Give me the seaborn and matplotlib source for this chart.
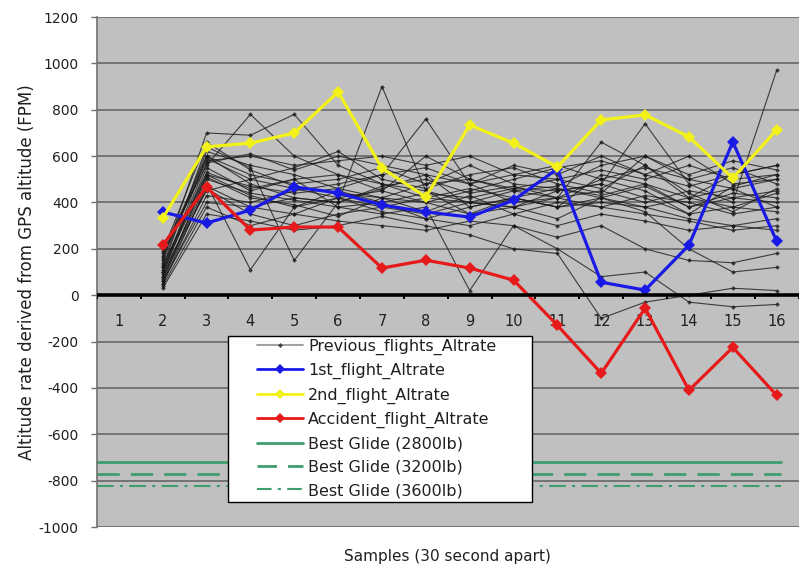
import numpy as np
import pandas as pd
import matplotlib
matplotlib.use("Agg")
import matplotlib.pyplot as plt
from matplotlib.lines import Line2D
from matplotlib.patches import Rectangle
import seaborn as sns

# ---------------- data ----------------
samples = list(range(2, 17))          # samples with data
tick_labels = [str(i) for i in range(1, 17)]
y_ticks = list(range(-1000, 1201, 200))

first_flight = [359, 311, 367, 467, 441, 389, 359, 337, 410, 545, 56, 22, 216, 661, 233]
second_flight = [332, 640, 656, 700, 877, 548, 424, 734, 656, 553, 756, 778, 683, 505, 713]
accident_flight = [216, 467, 281, 294, 294, 117, 151, 117, 65, -130, -337, -56, -410, -225, -432]

best_glide_2800 = -720
best_glide_3200 = -770
best_glide_3600 = -825

prev_flights = [
    [60, 520, 430, 380, 420, 360, 330, 380, 420, 460, 430, 480, 380, 420, 450],
    [100, 600, 480, 420, 400, 470, 500, 440, 470, 420, 500, 450, 350, 470, 520],
    [150, 700, 690, 780, 560, 480, 450, 400, 380, 330, 420, 380, 330, 300, 280],
    [200, 560, 780, 600, 520, 450, 600, 500, 450, 470, 560, 600, 500, 550, 480],
    [80, 480, 110, 380, 450, 400, 330, 300, 350, 400, 380, 430, 400, 350, 380],
    [120, 640, 550, 150, 400, 900, 450, 350, 420, 380, 520, 480, 420, 520, 560],
    [50, 430, 400, 450, 480, 520, 760, 480, 400, 420, 660, 560, 420, 380, 360],
    [90, 550, 450, 500, 380, 350, 380, 20, 300, 200, 80, 100, -30, -50, -40],
    [180, 600, 520, 480, 500, 550, 480, 500, 460, 450, 480, 740, 480, 400, 970],
    [40, 380, 300, 350, 320, 300, 280, 320, 300, 250, 300, 200, 150, 140, 180],
    [130, 520, 470, 440, 460, 420, 400, 450, 500, 550, 580, 520, 600, 480, 500],
    [70, 460, 350, 300, 350, 380, 420, 400, 380, 420, 450, 400, 450, 420, 400],
    [160, 590, 500, 550, 620, 500, 460, 520, 550, 480, 440, 600, 520, 580, 540],
    [110, 510, 420, 390, 340, 420, 360, 430, 350, 300, 350, 320, 280, 300, 330],
    [60, 400, 380, 420, 400, 460, 520, 380, 420, 380, 420, 470, 380, 440, 420],
    [140, 620, 560, 520, 460, 520, 550, 480, 520, 500, 540, 500, 560, 500, 520],
    [30, 350, 320, 280, 300, 340, 300, 260, 200, 180, -100, -30, 0, 30, 20],
    [100, 450, 500, 460, 420, 380, 350, 400, 450, 420, 380, 350, 320, 280, 300],
    [170, 580, 600, 560, 580, 600, 560, 600, 520, 560, 500, 550, 500, 460, 500],
    [50, 470, 380, 350, 420, 450, 400, 350, 380, 450, 480, 420, 350, 380, 440],
    [120, 530, 460, 500, 520, 480, 420, 460, 420, 380, 400, 380, 420, 460, 380],
    [80, 500, 440, 410, 380, 400, 440, 420, 460, 500, 460, 560, 440, 360, 460],
    [190, 660, 540, 470, 440, 420, 480, 560, 480, 460, 420, 360, 200, 100, 120],
    [100, 570, 610, 540, 600, 560, 520, 480, 560, 520, 600, 520, 470, 520, 560],
]

# ---------------- style ----------------
sns.set_theme(style="white")
plt.rcParams["font.family"] = ["DejaVu Sans"]

fig = plt.figure(figsize=(8.01, 5.67), dpi=100)
ax = fig.add_axes([0.121, 0.0705, 0.876, 0.8995])
ax.set_facecolor("#C0C0C0")

# gridlines
for yv in y_ticks:
    if yv != 0:
        ax.axhline(yv, color="#6E6E6E", lw=1.3, zorder=1)

# previous flights
prev_df = pd.DataFrame(
    [(k, s, v) for k, fl in enumerate(prev_flights) for s, v in zip(samples, fl)],
    columns=["flight", "sample", "rate"],
)
sns.lineplot(data=prev_df, x="sample", y="rate", units="flight", estimator=None,
             color="#1A1A1A", lw=0.8, alpha=0.8, marker="D", markersize=2.4,
             markeredgewidth=0, ax=ax, zorder=3, legend=False)

# best glide lines
gl_x = [0.5, 16.1]
green = "#3E9E6E"
sns.lineplot(x=gl_x, y=[best_glide_2800] * 2, color=green, lw=2.0, ax=ax, zorder=2)
l32 = sns.lineplot(x=gl_x, y=[best_glide_3200] * 2, color=green, lw=2.0, ax=ax, zorder=2).lines[-1]
l32.set_dashes([8, 4])
l36 = sns.lineplot(x=gl_x, y=[best_glide_3600] * 2, color=green, lw=1.5, ax=ax, zorder=2).lines[-1]
l36.set_dashes([8, 3, 1.5, 3])

# highlighted flights
blue, yellow, red = "#1A1AE6", "#F2F21A", "#E61A1A"
for vals, col in [(first_flight, blue), (second_flight, yellow), (accident_flight, red)]:
    sns.lineplot(x=samples, y=vals, color=col, lw=2.3, marker="D", markersize=6.5,
                 markeredgewidth=0, ax=ax, zorder=5)

# zero axis
ax.axhline(0, color="black", lw=2.6, zorder=6)

ax.set_xlim(0.5, 16.5)
ax.set_ylim(-1000, 1200)

for s in ["top", "right", "bottom"]:
    ax.spines[s].set_visible(False)
ax.spines["left"].set_color("#707070")
ax.spines["left"].set_linewidth(1.2)

ax.set_yticks(y_ticks)
ax.set_yticklabels([str(v) for v in y_ticks], fontsize=10, color="#202020")
ax.tick_params(axis="y", direction="out", length=4, width=1, color="#707070", pad=9, left=True)

ax.set_xticks(range(1, 17))
ax.set_xticklabels(tick_labels, fontsize=10.5, color="#202020")
ax.tick_params(axis="x", which="major", length=0, pad=0)
for lab in ax.get_xticklabels():
    lab.set_y(0.402)
    lab.set_va("center")
# boundary tick marks on the zero line
for xb in np.arange(0.5, 16.6, 1.0):
    ax.plot([xb, xb], [0, -18], color="black", lw=1.4, zorder=6, solid_capstyle="butt")

ax.set_xlabel("Samples (30 second apart)", fontsize=11, color="#202020", labelpad=16)
ax.set_ylabel("Altitude rate derived from GPS altitude (FPM)", fontsize=12, color="#202020", labelpad=2)

# legend box
ax.add_patch(Rectangle((0.1869, 0.049), 0.4336, 0.3255, transform=ax.transAxes,
                       facecolor="white", edgecolor="black", lw=1.0, zorder=9))

# legend (proxy handles)
handles = [
    Line2D([], [], color="#909090", lw=1.2, marker="D", markersize=2.5, markerfacecolor="#404040", markeredgewidth=0),
    Line2D([], [], color=blue, lw=2, marker="D", markersize=5, markeredgewidth=0),
    Line2D([], [], color=yellow, lw=2, marker="D", markersize=5, markeredgewidth=0),
    Line2D([], [], color=red, lw=2, marker="D", markersize=5, markeredgewidth=0),
    Line2D([], [], color=green, lw=2),
    Line2D([], [], color=green, lw=2, dashes=[7, 4]),
    Line2D([], [], color=green, lw=1.5, dashes=[7, 3, 1.5, 3]),
]
labels = ["Previous_flights_Altrate", "1st_flight_Altrate", "2nd_flight_Altrate",
          "Accident_flight_Altrate", "Best Glide (2800lb)", "Best Glide (3200lb)",
          "Best Glide (3600lb)"]
leg = ax.legend(handles, labels, loc="upper left", bbox_to_anchor=(0.2282, 0.3698),
                fontsize=11.5, frameon=False, handlelength=2.9, labelspacing=0.52,
                borderpad=0, handletextpad=0.3, borderaxespad=0)
leg.set_zorder(10)
for t in leg.get_texts():
    t.set_color("#202020")

fig.savefig("out.png", dpi=100, facecolor="white")
